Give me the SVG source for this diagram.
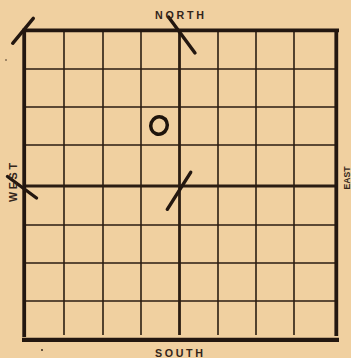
<svg xmlns="http://www.w3.org/2000/svg" width="351" height="358" viewBox="0 0 351 358">
<style>
.bg{fill:#f0d0a0}
.thin{stroke:#2b1d12;stroke-width:1.6;fill:none}
.axis{stroke:#2b1d12;stroke-width:2.8;fill:none}
.border{stroke:#231710;stroke-width:3.8;fill:none}
.tick{stroke:#231710;stroke-width:3.4;stroke-linecap:round;fill:none}
.lbl{font-family:"Liberation Sans","DejaVu Sans",sans-serif;font-weight:bold;font-size:10.7px;fill:#33251a}
.dot{fill:#3a2a1e}
</style>
<rect class="bg" x="0" y="0" width="351" height="358"/>
<g id="grid">
<g id="thin-lines">
<line class="thin" x1="64" y1="30" x2="64" y2="335"/>
<line class="thin" x1="103" y1="30" x2="103" y2="335"/>
<line class="thin" x1="141" y1="30" x2="141" y2="335"/>
<line class="thin" x1="218" y1="30" x2="218" y2="335"/>
<line class="thin" x1="256" y1="30" x2="256" y2="335"/>
<line class="thin" x1="294" y1="30" x2="294" y2="335"/>
<line class="thin" x1="24" y1="69" x2="336" y2="69"/>
<line class="thin" x1="24" y1="107" x2="336" y2="107"/>
<line class="thin" x1="24" y1="145" x2="336" y2="145"/>
<line class="thin" x1="24" y1="225" x2="336" y2="225"/>
<line class="thin" x1="24" y1="263" x2="336" y2="263"/>
<line class="thin" x1="24" y1="301" x2="336" y2="301"/>
</g>
<g id="axes">
<line class="axis" x1="179.5" y1="30" x2="179.5" y2="335"/>
<line class="axis" x1="24" y1="186" x2="336" y2="186"/>
</g>
<g id="border">
<line class="border" x1="22.5" y1="30.3" x2="339" y2="30.3"/>
<line class="border" x1="24.2" y1="30" x2="24.2" y2="337"/>
<line class="border" x1="336.3" y1="30" x2="336.3" y2="336"/>
<line class="border" x1="22" y1="339.8" x2="339" y2="339.8" style="stroke-width:4.2"/>
</g>
</g>
<g id="marks">
<line class="tick" x1="12.7" y1="43.3" x2="33.3" y2="18.3"/>
<line class="tick" x1="168.5" y1="17" x2="195" y2="53"/>
<line class="tick" x1="7.5" y1="176.5" x2="36.5" y2="198"/>
<line class="tick" x1="190.7" y1="172.3" x2="167.3" y2="209.3"/>
<ellipse id="o-mark" cx="159" cy="125.5" rx="8.2" ry="8.8" transform="rotate(20 159 125.5)" style="fill:none;stroke:#1e140c;stroke-width:3.5"/>
</g>
<g id="labels">
<text id="north" class="lbl" x="179.5" y="19.3" text-anchor="middle" textLength="49" lengthAdjust="spacing">NORTH</text>
<text id="south" class="lbl" x="179" y="357" text-anchor="middle" textLength="48" lengthAdjust="spacing">SOUTH</text>
<text id="west" class="lbl" transform="translate(17,182.5) rotate(-90)" text-anchor="middle" textLength="39" lengthAdjust="spacing">WEST</text>
<text id="east" class="lbl" transform="translate(350.3,178) rotate(-90)" text-anchor="middle" textLength="23" lengthAdjust="spacingAndGlyphs" style="font-size:9.5px">EAST</text>
</g>
<circle class="dot" cx="6" cy="60" r="0.8"/>
<circle class="dot" cx="42" cy="350" r="1"/>
</svg>
